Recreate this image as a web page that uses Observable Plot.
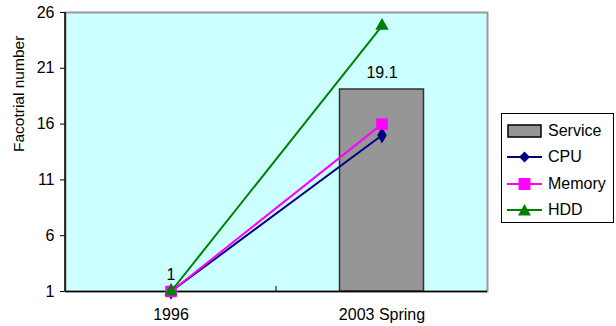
<!DOCTYPE html>
<html>
<head>
<meta charset="utf-8">
<script src="https://cdn.jsdelivr.net/npm/d3@7"></script>
<script src="https://cdn.jsdelivr.net/npm/@observablehq/plot@0.6"></script>
<style>
  html, body { margin: 0; padding: 0; background: #fff; }
  #wrap { position: relative; width: 616px; height: 326px; font-family: "Liberation Sans", Arial, sans-serif; }
  #legend { position: absolute; left: 501px; top: 113px; width: 111px; height: 108px; border: 1px solid #000; background: #fff; }
  .item { position: absolute; left: 5px; height: 20px; display: flex; align-items: center; font-size: 16px; color: #000; }
  .item svg { margin-right: 5px; }
</style>
</head>
<body>
<div id="wrap"></div>
<script>
const categories = ["1996", "2003 Spring"];
const service = [1, 19.1];
const cpu = [1, 15];
const memory = [1, 16];
const hdd = [1, 24.8];
const yTicks = [1, 6, 11, 16, 21, 26];
const yLabel = "Facotrial number";

const seriesDefs = [
  {name: "CPU", values: cpu, color: "#000080", symbol: "diamond", r: 5},
  {name: "Memory", values: memory, color: "#FF00FF", symbol: "square", r: 6.5},
  {name: "HDD", values: hdd, color: "#008000", symbol: "triangle", r: 5}
];

const barData = categories.map((c, i) => ({cat: c, v: service[i]}));

const lineMarks = [];
for (const s of seriesDefs) {
  const d = categories.map((c, i) => ({cat: c, v: s.values[i]}));
  lineMarks.push(Plot.line(d, {x: "cat", y: "v", stroke: s.color, strokeWidth: 2}));
  lineMarks.push(Plot.dot(d, {x: "cat", y: "v", fill: s.color, stroke: "none", symbol: s.symbol, r: s.r}));
}

const axesMark = (index, scales, values, dims) => {
  const g = d3.create("svg:g");
  const left = dims.marginLeft, bottom = dims.height - dims.marginBottom, top = dims.marginTop;
  g.append("line").attr("x1", left).attr("x2", left).attr("y1", top).attr("y2", bottom)
    .attr("stroke", "#000").attr("stroke-width", 1.5);
  for (const c of categories.slice(1)) {
    const x = scales.x(c);
    g.append("line").attr("x1", x).attr("x2", x).attr("y1", bottom).attr("y2", bottom - 5)
      .attr("stroke", "#000").attr("stroke-width", 1);
  }
  return g.node();
};

const chart = Plot.plot({
  width: 616,
  height: 326,
  marginLeft: 65,
  marginRight: 129,
  marginTop: 12,
  marginBottom: 35,
  style: {fontFamily: "Liberation Sans, Arial, sans-serif", fontSize: "16px", color: "#000", background: "#fff"},
  x: {type: "band", domain: categories, padding: 0, label: null, tickSize: 0, tickPadding: 17},
  y: {domain: [1, 26], ticks: yTicks, tickFormat: d => String(d), label: null, tickSize: 5, tickPadding: 6},
  marks: [
    Plot.frame({fill: "#CCFFFF", stroke: "#999999", strokeWidth: 2}),
    Plot.barY(barData, {x: "cat", y1: 1, y2: "v", fill: "#969696", stroke: "#333333", strokeWidth: 1.5, insetLeft: 63.5, insetRight: 63.5}),
    Plot.ruleY([1], {stroke: "#000", strokeWidth: 1.5}),
    axesMark,
    ...lineMarks,
    Plot.text(barData, {x: "cat", y: "v", text: d => String(d.v), dy: -17, fill: "#000", fontSize: 16}),
    Plot.text([yLabel], {frameAnchor: "left", text: d => d, rotate: -90, dx: -46, fill: "#000", fontSize: 15.5})
  ]
});

const wrap = document.getElementById("wrap");
wrap.appendChild(chart);

const legend = document.createElement("div");
legend.id = "legend";
const rows = [
  {name: "Service", type: "bar"},
  ...seriesDefs.map(s => ({name: s.name, type: "line", color: s.color, symbol: s.symbol}))
];
const symPath = {
  diamond: "M17.5,4.5 L23,10 L17.5,15.5 L12,10 Z",
  square: "M11.5,4 H23.5 V16 H11.5 Z",
  triangle: "M17.5,4 L24,15.5 L11,15.5 Z"
};
rows.forEach((r, i) => {
  const it = document.createElement("div");
  it.className = "item";
  it.style.top = (7 + i * 26.3) + "px";
  let sw;
  if (r.type === "bar") {
    sw = `<svg width="36" height="20"><rect x="1" y="4" width="33" height="12" fill="#969696" stroke="#000" stroke-width="1.5"/></svg>`;
  } else {
    sw = `<svg width="36" height="20"><line x1="0" x2="35" y1="10" y2="10" stroke="${r.color}" stroke-width="2"/><path d="${symPath[r.symbol]}" fill="${r.color}"/></svg>`;
  }
  it.innerHTML = sw + `<span>${r.name}</span>`;
  legend.appendChild(it);
});
wrap.appendChild(legend);
</script>
</body>
</html>
